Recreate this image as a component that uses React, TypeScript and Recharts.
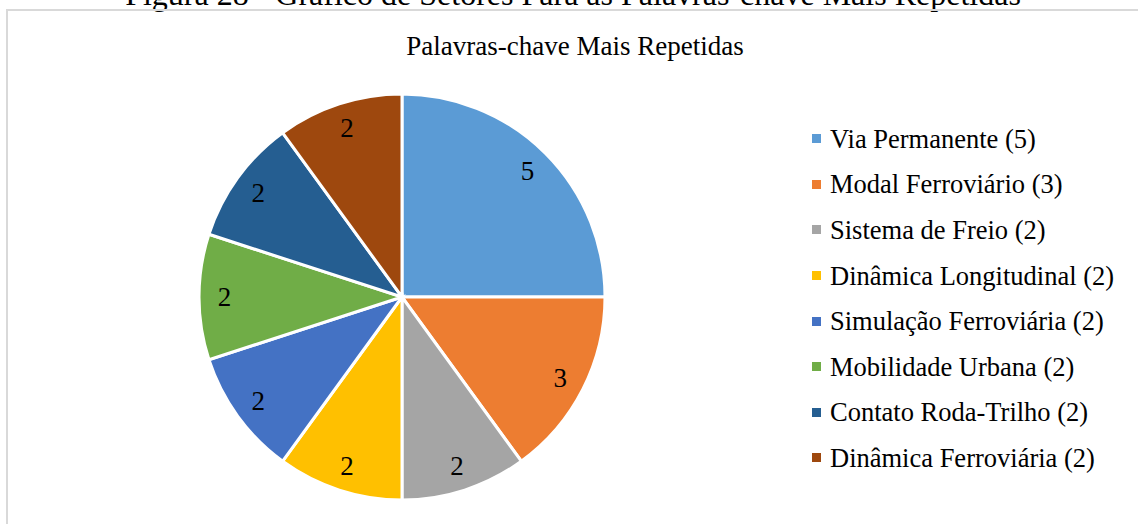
import React from 'react';
import { PieChart, Pie, Cell, Legend } from 'recharts';

const categories = [
  'Via Permanente',
  'Modal Ferroviário',
  'Sistema de Freio',
  'Dinâmica Longitudinal',
  'Simulação Ferroviária',
  'Mobilidade Urbana',
  'Contato Roda-Trilho',
  'Dinâmica Ferroviária',
];
const counts = [5, 3, 2, 2, 2, 2, 2, 2];
const colors = ['#5B9BD5', '#ED7D31', '#A5A5A5', '#FFC000', '#4472C4', '#70AD47', '#255E91', '#9E480E'];

const data = categories.map((name, i) => ({ name, value: counts[i] }));

const FONT = '"Liberation Serif", "Times New Roman", serif';
const RAD = Math.PI / 180;

const renderLabel = (props: any) => {
  const { cx, cy, midAngle, outerRadius, value } = props;
  const r = outerRadius * 0.875;
  const x = cx + r * Math.cos(-midAngle * RAD);
  const y = cy + r * Math.sin(-midAngle * RAD);
  return (
    <text x={x} y={y} textAnchor="middle" dominantBaseline="central" fill="#000" style={{ fontFamily: FONT, fontSize: 27 }}>
      {value}
    </text>
  );
};

const renderLegend = () => {
  return (
    <div style={{ fontFamily: FONT, fontSize: 26.5, color: '#000' }}>
      {data.map((d, i) => (
        <div key={d.name} style={{ position: 'relative', height: 45.6, display: 'flex', alignItems: 'center' }}>
          <span style={{ width: 9, height: 9, background: colors[i], display: 'inline-block', marginRight: 9, flex: 'none' }} />
          <span style={{ whiteSpace: 'nowrap', lineHeight: '30px' }}>
            {d.name} ({d.value})
          </span>
        </div>
      ))}
    </div>
  );
};

export default function App() {
  return (
    <div style={{ position: 'absolute', left: 0, top: 0, width: 1138, height: 524, overflow: 'hidden', background: '#fff' }}>
      <div
        style={{
          position: 'absolute', left: 0, top: -24, width: 1146, textAlign: 'center',
          fontFamily: FONT, fontSize: 32, lineHeight: '36px', color: '#000', whiteSpace: 'nowrap',
        }}
      >
        Figura 28 - Gráfico de Setores Para as Palavras-chave Mais Repetidas
      </div>
      <div
        style={{
          position: 'absolute', left: 6, top: 9, width: 1200, height: 600,
          border: '2px solid #D9D9D9', boxSizing: 'border-box',
        }}
      />
      <div
        style={{
          position: 'absolute', left: 0, top: 30, width: 1150, textAlign: 'center',
          fontFamily: FONT, fontSize: 27, lineHeight: '32px', color: '#000', whiteSpace: 'nowrap',
        }}
      >
        Palavras-chave Mais Repetidas
      </div>
      <div style={{ position: 'absolute', left: 0, top: 0 }}>
        <PieChart width={1138} height={524} margin={{ top: 0, right: 0, bottom: 0, left: 0 }}>
          <Pie
            data={data}
            dataKey="value"
            nameKey="name"
            cx={402}
            cy={297}
            outerRadius={203}
            startAngle={90}
            endAngle={-270}
            stroke="#FFFFFF"
            strokeWidth={3}
            label={renderLabel}
            labelLine={false}
            isAnimationActive={false}
          >
            {data.map((d, i) => (
              <Cell key={d.name} fill={colors[i]} />
            ))}
          </Pie>
          <Legend
            content={renderLegend}
            layout="vertical"
            verticalAlign="middle"
            align="right"
            wrapperStyle={{ position: 'absolute', left: 812, top: 116, width: 326, right: 'auto' }}
          />
        </PieChart>
      </div>
    </div>
  );
}
